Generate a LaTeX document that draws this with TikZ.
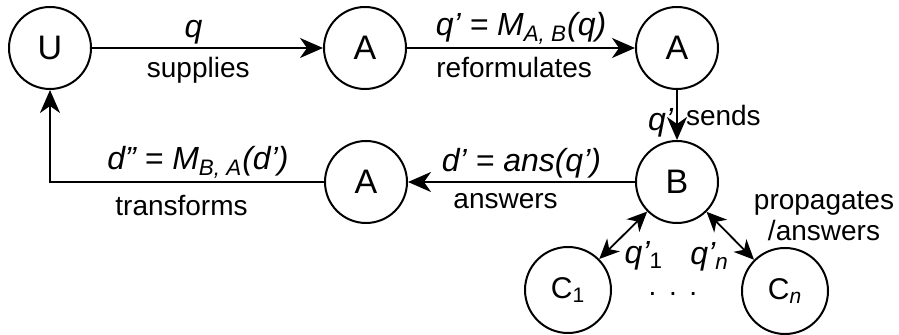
\documentclass[tikz,border=0pt]{standalone}
\usepackage{fontspec}
\setmainfont{Liberation Sans}
\usetikzlibrary{arrows.meta}

\begin{document}
\begin{tikzpicture}[x=0.5pt,y=-0.5pt,
  agent/.style={circle,draw,line width=1pt,minimum size=41pt,inner sep=0pt,font=\fontsize{17}{20}\selectfont},
  peer/.style={agent,minimum size=43pt,font=\fontsize{15}{17}\selectfont},
  flow/.style={line width=1pt,-{Stealth[length=11.5pt,width=10pt,inset=3.5pt]}},
  both/.style={line width=0.9pt,{Stealth[length=10pt,width=9pt,inset=3pt]}-{Stealth[length=10pt,width=9pt,inset=3pt]}},
  lbl/.style={font=\fontsize{14}{15.5}\selectfont,inner sep=2pt},
  mlbl/.style={font=\fontsize{16}{18}\selectfont\itshape,inner sep=1.5pt}]
\useasboundingbox (0,0) rectangle (899,335);
% agents
\node[agent] (U) at (50,48) {U};
\node[agent] (A1) at (365,48) {A};
\node[agent] (A2) at (677,48) {A};
\node[agent] (B) at (677,182) {B};
\node[agent] (A3) at (366,182) {A};
\node[peer] (C1) at (568,290) {C\textsubscript{1}};
\node[peer] (Cn) at (785,291) {C\textsubscript{\itshape n}};
\node[lbl] (dots) at (673,294) {.\hspace{0.45em}.\hspace{0.45em}.};
% query and answer flow
\draw[flow] (U) -- node[mlbl,above,pos=.44] {q} node[lbl,below,pos=.46,inner sep=4pt] {supplies} (A1);
\draw[flow] (A1) -- node[mlbl,above,pos=.5] {q’ = M\textsubscript{A, B}(q)} node[lbl,below,pos=.47,inner sep=4pt] {reformulates} (A2);
\draw[flow] (A2) -- node[mlbl,left,pos=.65] {q’} node[lbl,right,pos=.5,inner sep=4pt] {sends} (B);
\draw[flow] (B) -- node[mlbl,above,pos=.5] {d’ = ans(q’)} node[lbl,below,pos=.57,inner sep=5pt] {answers} (A3);
\draw[flow] (A3) -| node[mlbl,above,pos=.23] {d” = M\textsubscript{B, A}(d’)} node[lbl,below,pos=.26,inner sep=6pt] {transforms} (U);
\draw[both] (B) -- node[mlbl,below right,pos=.55] {q’\textsubscript{\upshape 1}} (C1);
\draw[both] (B) -- node[mlbl,below left,pos=.55] {q’\textsubscript{n}} (Cn);
\node[lbl,align=center] (prop) at (824,216) {propagates\\/answers};
\end{tikzpicture}
\end{document}
